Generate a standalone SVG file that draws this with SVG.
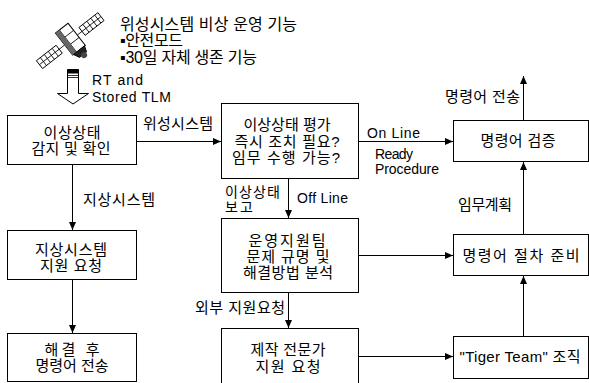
<svg xmlns="http://www.w3.org/2000/svg" width="589" height="383" viewBox="0 0 589 383">
  <style>
    text { font-family: "Liberation Sans", "Noto Sans CJK KR", sans-serif; font-size: 15px; fill: #000; }
    .en { font-size: 14px; }
    .big { font-size: 16px; }
    .sm { font-size: 14px; }
    .c { text-anchor: middle; }
    .box { fill: #fff; stroke: #000; stroke-width: 1; }
    .wire { fill: none; stroke: #000; stroke-width: 1; marker-end: url(#head); }
    .thin { fill: none; stroke: #000; stroke-width: 0.8; }
  </style>
  <defs>
    <marker id="head" markerUnits="userSpaceOnUse" markerWidth="9" markerHeight="8" refX="8" refY="3.5" orient="auto">
      <path d="M0,0 L8,3.5 L0,7 z" fill="#000"/>
    </marker>
  </defs>

  <!-- satellite icon -->
  <g id="satellite" transform="translate(71,40) rotate(-38)">
    <rect x="-40" y="-5" width="25" height="10" fill="#fff" stroke="#000" stroke-width="0.9"/>
    <path class="thin" d="M-35,-5 V5 M-30,-5 V5 M-25,-5 V5 M-20,-5 V5 M-40,0 H-15"/>
    <rect x="14" y="-5" width="24" height="10" fill="#fff" stroke="#000" stroke-width="0.9"/>
    <path class="thin" d="M19,-5 V5 M24,-5 V5 M29,-5 V5 M34,-5 V5 M14,0 H38"/>
    <path class="thin" d="M-15,0 H-8 M8,0 H14"/>
    <rect x="-8" y="-15" width="16" height="28" fill="#fff" stroke="#000" stroke-width="1"/>
    <path class="thin" d="M-8,-6 H8 M-8,3 H8 M-3,-15 V13"/>
    <rect x="-8" y="-15" width="5" height="28" fill="#666"/>
    <path d="M-7,13 L-4,19 L5,19 L7,13 z" fill="#222" stroke="#000" stroke-width="0.8"/>
    <circle cx="1" cy="20" r="3" fill="#444"/>
  </g>

  <g id="caption">
    <text x="120" y="30" class="big" textLength="177">위성시스템 비상 운영 기능</text>
    <text x="120" y="46" class="big" textLength="63">▪안전모드</text>
    <text x="120" y="63" class="big" textLength="137">▪30일 자체 생존 기능</text>
  </g>

  <!-- hollow downlink arrow -->
  <g id="downlink">
    <polygon points="67.5,69.5 78.5,69.5 78.5,93.5 88.5,93.5 73,104 57.5,93.5 67.5,93.5" fill="#fff" stroke="#000" stroke-width="1"/>
    <rect x="67.5" y="69.5" width="11" height="4" fill="#000"/>
    <path d="M67.5,75.5 H78.5 M67.5,77.5 H78.5" stroke="#000" stroke-width="0.8"/>
    <text x="92" y="85" class="en" textLength="51">RT and</text>
    <text x="92" y="102" class="en" textLength="79">Stored TLM</text>
  </g>

  <!-- connectors -->
  <g id="connectors">
    <path class="wire" d="M136.5,141.5 H221"/>
    <path class="wire" d="M72.5,164.5 V230"/>
    <path class="wire" d="M72.5,279.5 V333"/>
    <path class="wire" d="M288.5,178.5 V218"/>
    <path class="wire" d="M288.5,292.5 V328"/>
    <path class="wire" d="M358.5,141.5 H453"/>
    <path class="wire" d="M358.5,255.5 H453"/>
    <path class="wire" d="M358.5,356.5 H453"/>
    <path class="wire" d="M523.5,336.5 V276"/>
    <path class="wire" d="M523.5,234.5 V162"/>
    <path class="wire" d="M523.5,120.5 V76"/>
    <text x="143" y="129" textLength="70">위성시스템</text>
    <text x="83" y="205" textLength="72">지상시스템</text>
    <text x="225" y="197" class="sm" textLength="55">이상상태</text>
    <text x="225" y="212" class="sm" textLength="28">보고</text>
    <text x="297" y="203" class="en" textLength="51">Off Line</text>
    <text x="195" y="313" textLength="90">외부 지원요청</text>
    <text x="367" y="138" class="en" textLength="53">On Line</text>
    <text x="375" y="159" class="en" textLength="38">Ready</text>
    <text x="375" y="174" class="en" textLength="64">Procedure</text>
    <text x="445" y="102" textLength="75">명령어 전송</text>
    <text x="458" y="210" textLength="54">임무계획</text>
  </g>

  <g id="detect">
    <rect class="box" x="7.5" y="115.5" width="129" height="49"/>
    <text x="72" y="138" class="c" textLength="57">이상상태</text>
    <text x="71" y="154" class="c" textLength="79">감지 및 확인</text>
  </g>
  <g id="ground-request">
    <rect class="box" x="7.5" y="230.5" width="129" height="49"/>
    <text x="71" y="255" class="c" textLength="72">지상시스템</text>
    <text x="71" y="271" class="c" textLength="62">지원 요청</text>
  </g>
  <g id="resolve-send">
    <rect class="box" x="7.5" y="333.5" width="129" height="48"/>
    <text x="72" y="355" class="c" textLength="55">해결 후</text>
    <text x="72" y="371" class="c" textLength="73">명령어 전송</text>
  </g>
  <g id="evaluate">
    <rect class="box" x="221.5" y="103.5" width="137" height="75"/>
    <text x="287" y="130" class="c" textLength="87">이상상태 평가</text>
    <text x="287" y="147" class="c" textLength="105">즉시 조치 필요?</text>
    <text x="286" y="163" class="c" textLength="108">임무 수행 가능?</text>
  </g>
  <g id="ops-team">
    <rect class="box" x="221.5" y="218.5" width="137" height="74"/>
    <text x="287" y="246" class="c" textLength="77">운영지원팀</text>
    <text x="288" y="262" class="c" textLength="83">문제 규명 및</text>
    <text x="288" y="278" class="c" textLength="90">해결방법 분석</text>
  </g>
  <g id="maker-request">
    <rect class="box" x="221.5" y="328.5" width="137" height="60"/>
    <text x="288" y="355" class="c" textLength="75">제작 전문가</text>
    <text x="288" y="372" class="c" textLength="65">지원 요청</text>
  </g>
  <g id="verify">
    <rect class="box" x="453.5" y="120.5" width="135" height="41"/>
    <text x="518" y="146" class="c" textLength="75">명령어 검증</text>
  </g>
  <g id="prepare">
    <rect class="box" x="453.5" y="234.5" width="135" height="41"/>
    <text x="521" y="261" class="c" textLength="117">명령어 절차 준비</text>
  </g>
  <g id="tiger-team">
    <rect class="box" x="453.5" y="336.5" width="135" height="42"/>
    <text x="520" y="362" class="c" textLength="121">"Tiger Team" 조직</text>
  </g>
</svg>
